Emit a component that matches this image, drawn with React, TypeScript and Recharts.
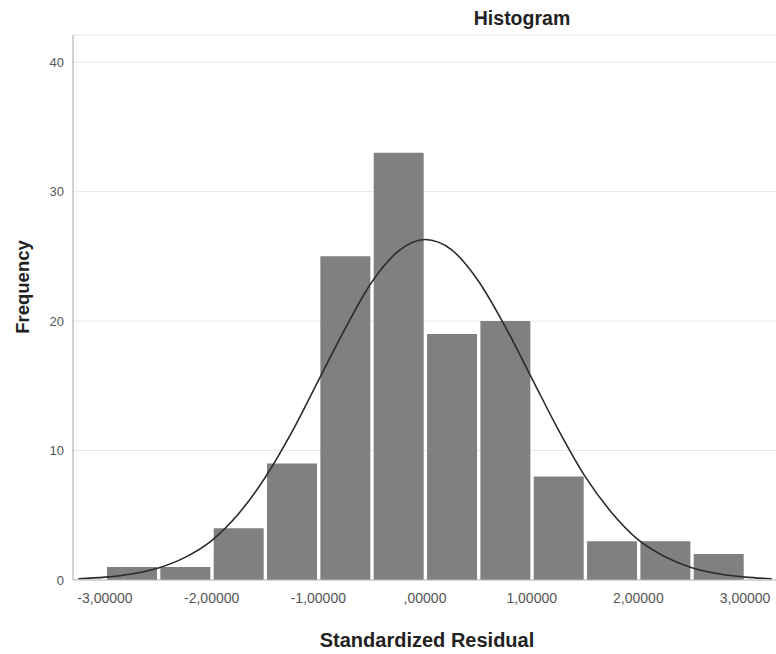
import { Bar, CartesianGrid, ComposedChart, Line, XAxis, YAxis } from "recharts";

const BIN_CENTERS = [-2.75, -2.25, -1.75, -1.25, -0.75, -0.25, 0.25, 0.75, 1.25, 1.75, 2.25, 2.75];
const COUNTS = [1, 1, 4, 9, 25, 33, 19, 20, 8, 3, 3, 2];

// normal curve, every 0.25
const CURVE_X = [
  -3.25, -3, -2.75, -2.5, -2.25, -2, -1.75, -1.5, -1.25, -1, -0.75, -0.5, -0.25, 0,
  0.25, 0.5, 0.75, 1, 1.25, 1.5, 1.75, 2, 2.25, 2.5, 2.75, 3, 3.25,
];
const CURVE_Y = [
  0.1, 0.22, 0.47, 0.93, 1.75, 3.05, 5.1, 7.9, 11.4, 15.4, 19.4, 23.0, 25.4, 26.3,
  25.5, 23.1, 19.6, 15.6, 11.6, 8.0, 5.2, 3.1, 1.8, 0.95, 0.48, 0.22, 0.1,
];

const X_TICKS = [-3, -2, -1, 0, 1, 2, 3];
const X_TICK_LABELS = ["-3,00000", "-2,00000", "-1,00000", ",00000", "1,00000", "2,00000", "3,00000"];
const Y_TICKS = [0, 10, 20, 30, 40];

const bars = BIN_CENTERS.map((x, i) => ({ x, count: COUNTS[i] }));
const curve = CURVE_X.map((x, i) => ({ x, curve: CURVE_Y[i] }));

const W = 776;
const H = 654;
const X_DOMAIN = [-3.3, 3.29];
const FONT = "'Liberation Sans', Arial, sans-serif";

export default function App() {
  return (
    <div style={{ position: "absolute", left: 0, top: 0, width: W, height: H, background: "#fff" }}>
      <ComposedChart
        width={W}
        height={H}
        data={bars}
        margin={{ top: 35, right: 0, bottom: 0, left: 0 }}
      >
        <CartesianGrid horizontal vertical={false} stroke="#e6e6e6" />
        <XAxis
          type="number"
          dataKey="x"
          domain={X_DOMAIN}
          ticks={X_TICKS}
          tickFormatter={(v: number) => X_TICK_LABELS[X_TICKS.indexOf(v)] ?? ""}
          tickLine={false}
          tickSize={0}
          tickMargin={13}
          axisLine={{ stroke: "#bdbdbd" }}
          tick={{ fontSize: 14, fill: "#555", fontFamily: FONT }}
          height={74}
          allowDataOverflow
        />
        <XAxis xAxisId="curve" type="number" dataKey="x" domain={X_DOMAIN} hide allowDataOverflow />
        <YAxis
          type="number"
          domain={[0, 42.1]}
          ticks={Y_TICKS}
          tickLine={false}
          tickSize={0}
          tickMargin={9}
          axisLine={{ stroke: "#a8a8a8" }}
          tick={{ fontSize: 13, fill: "#555", fontFamily: FONT }}
          width={73}
          allowDataOverflow
        />
        <Bar dataKey="count" fill="#808080" barSize={50} isAnimationActive={false} />
        <Line
          xAxisId="curve"
          data={curve}
          dataKey="curve"
          type="monotone"
          stroke="#2b2b2b"
          strokeWidth={1.6}
          dot={false}
          activeDot={false}
          isAnimationActive={false}
        />
      </ComposedChart>
      <svg
        width={W}
        height={H}
        style={{ position: "absolute", left: 0, top: 0, pointerEvents: "none" }}
      >
        <text x={522} y={25} textAnchor="middle" fontFamily={FONT} fontWeight="bold" fontSize={19.5} fill="#222">
          Histogram
        </text>
        <text x={427} y={647} textAnchor="middle" fontFamily={FONT} fontWeight="bold" fontSize={20} fill="#222">
          Standardized Residual
        </text>
        <text
          x={0}
          y={0}
          transform="translate(29,287) rotate(-90)"
          textAnchor="middle"
          fontFamily={FONT}
          fontWeight="bold"
          fontSize={18.5}
          fill="#222"
        >
          Frequency
        </text>
      </svg>
    </div>
  );
}
